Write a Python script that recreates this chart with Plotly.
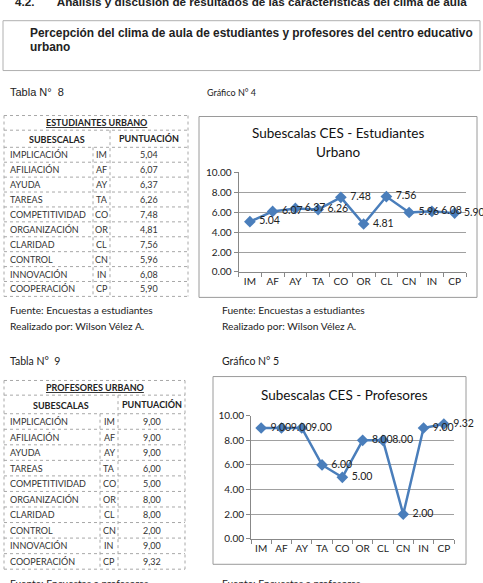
import plotly.graph_objects as go

W, H = 483, 583

sub_names = ["IMPLICACIÓN", "AFILIACIÓN", "AYUDA", "TAREAS", "COMPETITIVIDAD",
             "ORGANIZACIÓN", "CLARIDAD", "CONTROL", "INNOVACIÓN", "COOPERACIÓN"]
codes = ["IM", "AF", "AY", "TA", "CO", "OR", "CL", "CN", "IN", "CP"]
est_values = [5.04, 6.07, 6.37, 6.26, 7.48, 4.81, 7.56, 5.96, 6.08, 5.90]
prof_values = [9.00, 9.00, 9.00, 6.00, 5.00, 8.00, 8.00, 2.00, 9.00, 9.32]
y_ticks = [0, 2, 4, 6, 8, 10]

BLUE = "#4A7EBB"
CAL = "Lato"
ARIAL = "Liberation Sans"


def X(px):
    return px / W


def Y(py):
    return 1 - py / H


fig = go.Figure()
shapes = []
ann = []


def text(x, y, s, size, font=CAL, xanchor="left", color="#222", yanchor="middle"):
    ann.append(dict(x=X(x), y=Y(y), xref="paper", yref="paper", text=s, showarrow=False,
                    xanchor=xanchor, yanchor=yanchor,
                    font=dict(family=font, size=size, color=color)))


def line(x0, y0, x1, y1, color="#a8a8a8", dash="dot", width=1):
    shapes.append(dict(type="line", xref="paper", yref="paper", x0=X(x0), y0=Y(y0),
                       x1=X(x1), y1=Y(y1), line=dict(color=color, width=width, dash=dash)))


def rect(x0, y0, x1, y1, color="#9a9a9a", width=1):
    shapes.append(dict(type="rect", xref="paper", yref="paper", x0=X(x0), y0=Y(y0),
                       x1=X(x1), y1=Y(y1), line=dict(color=color, width=width),
                       fillcolor="rgba(0,0,0,0)", layer="below"))


# Page header (cut at top, as on the page)
text(13, -6, "<b>4.2.       Análisis y discusión de resultados de las características del clima de aula</b>",
     11.7, ARIAL)
rect(3, 14, 480, 65, color="#b0b0b0")
text(28, 27, "<b>Percepción del clima de aula de estudiantes y profesores del centro educativo</b>",
     11.9, ARIAL)
text(28, 41, "<b>urbano</b>", 11.9, ARIAL)

text(8, 87, "Tabla N°  8", 11, ARIAL)
text(205, 87, "Gráfico N° 4", 9, CAL)

text(8, 310, "Fuente: Encuestas a estudiantes", 10.2, CAL)
text(8, 326, "Realizado por: Wilson Vélez A.", 10.2, CAL)
text(220, 310, "Fuente: Encuestas a estudiantes", 10.2, CAL)
text(220, 326, "Realizado por: Wilson Vélez A.", 10.2, CAL)
text(8, 362, "Tabla N°  9", 10.5, CAL)
text(220, 362, "Gráfico N° 5", 10.5, CAL)
text(8, 589, "Fuente: Encuestas a profesores", 10.2, CAL)
text(220, 589, "Fuente: Encuestas a profesores", 10.2, CAL)


def draw_table(cols, ytop, y1, y2, ybot, title, values):
    x0, xa, xb, x1 = cols
    n = len(values)
    rh = (ybot - y2) / n
    line(x0, ytop, x1, ytop)
    line(x0, ybot, x1, ybot)
    line(x0, ytop, x0, ybot)
    line(x1, ytop, x1, ybot)
    line(x0, y1, x1, y1)
    line(x0, y2, x1, y2)
    for i in range(1, n):
        yy = y2 + i * rh
        line(x0, yy, x1, yy)
    line(xb, y1, xb, ybot)
    line(xa, y2, xa, ybot)
    text((x0 + x1) / 2, (ytop + y1) / 2, "<b><u>" + title + "</u></b>", 9, CAL, "center")
    text((x0 + xb) / 2, (y1 + y2) / 2 + 1, "<b>SUBESCALAS</b>", 9, CAL, "center")
    text((xb + x1) / 2, (y1 + y2) / 2, "<b>PUNTUACIÓN</b>", 9, CAL, "center")
    for i, (nm, cd, v) in enumerate(zip(sub_names, codes, values)):
        yc = y2 + (i + 0.5) * rh
        text(x0 + 4, yc, nm, 9, CAL, "left", "#333")
        text((xa + xb) / 2, yc, cd, 9, CAL, "center", "#333")
        text((xb + x1) / 2, yc, f"{v:.2f}".replace(".", ","), 9, CAL, "center", "#333")


draw_table((4, 93, 110, 188), 111, 126, 143.5, 296, "ESTUDIANTES URBANO", est_values)
draw_table((4, 100, 118, 185), 382, 397, 416, 575, "PROFESORES URBANO", prof_values)

# chart frames
rect(199, 112, 477, 297)
rect(213, 378, 466, 570)
text(338, 129, "Subescalas CES - Estudiantes", 13.5, CAL, "center", "#111")
text(338, 148, "Urbano", 13.5, CAL, "center", "#111")
text(344, 397, "Subescalas CES - Profesores", 13.5, CAL, "center", "#111")

for vals, xa, ya in [(est_values, "x", "y"), (prof_values, "x2", "y2")]:
    fig.add_trace(go.Scatter(
        x=codes, y=vals, xaxis=xa, yaxis=ya, mode="lines+markers+text",
        text=[" " + f"{v:.2f}" for v in vals], textposition="middle right",
        textfont=dict(family=CAL, size=10.5, color="#222"),
        line=dict(color=BLUE, width=2.5),
        marker=dict(symbol="diamond", size=9, color=BLUE),
        cliponaxis=False, showlegend=False, hoverinfo="skip"))

axis_common_x = dict(type="category", tickson="boundaries", ticks="outside", ticklen=4,
                     tickcolor="#888", showline=True, linecolor="#888", showgrid=False,
                     tickangle=0,
                     tickfont=dict(family=CAL, size=10, color="#222"), range=[-0.5, 9.5],
                     fixedrange=True)
axis_common_y = dict(range=[0, 10], tickvals=y_ticks, ticktext=[f"{v:.2f}" for v in y_ticks],
                     ticks="outside", ticklen=4, tickcolor="#888", showline=True,
                     linecolor="#888", showgrid=True, gridcolor="#a0a0a0", zeroline=False,
                     tickfont=dict(family=CAL, size=10, color="#222"), fixedrange=True)

fig.update_layout(
    width=W, height=H, margin=dict(l=0, r=0, t=0, b=0),
    paper_bgcolor="white", plot_bgcolor="rgba(0,0,0,0)",
    xaxis=dict(domain=[X(238.5), X(466)], anchor="y", **axis_common_x),
    yaxis=dict(domain=[Y(271), Y(169)], anchor="x", **axis_common_y),
    xaxis2=dict(domain=[X(251), X(454)], anchor="y2", **axis_common_x),
    yaxis2=dict(domain=[Y(544), Y(418)], anchor="x2", **axis_common_y),
    shapes=shapes, annotations=ann,
)

fig.write_html("out.html")
